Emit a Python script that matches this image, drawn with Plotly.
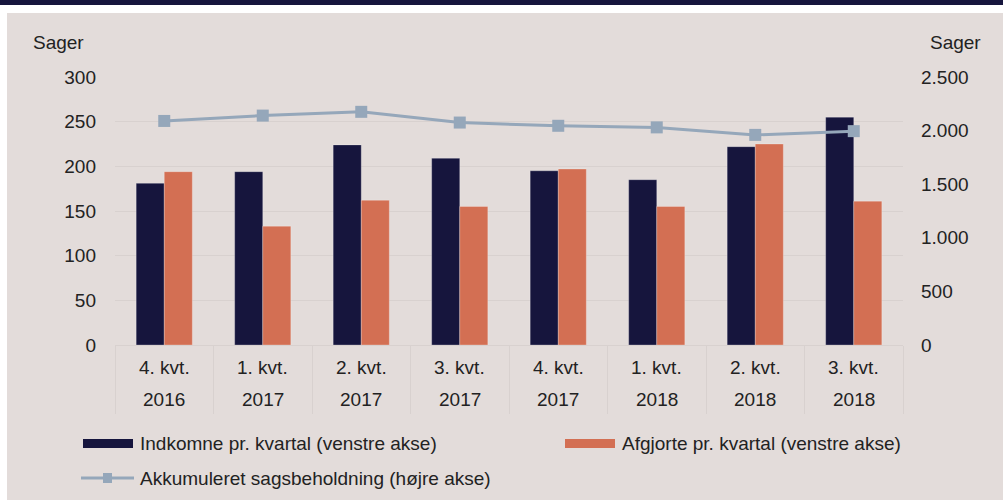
import plotly.graph_objects as go

quarters = ["4. kvt.", "1. kvt.", "2. kvt.", "3. kvt.", "4. kvt.", "1. kvt.", "2. kvt.", "3. kvt."]
years = ["2016", "2017", "2017", "2017", "2017", "2018", "2018", "2018"]
categories = [f"{q} {y}" for q, y in zip(quarters, years)]

indkomne = [181, 194, 224, 209, 195, 185, 222, 255]
afgjorte = [194, 133, 162, 155, 197, 155, 225, 161]
beholdning = [2090, 2140, 2175, 2075, 2045, 2030, 1960, 1995]

name_ind = "Indkomne pr. kvartal (venstre akse)"
name_afg = "Afgjorte pr. kvartal (venstre akse)"
name_akk = "Akkumuleret sagsbeholdning (højre akse)"

NAVY = "#16153D"
ORANGE = "#D36F53"
LINE = "#95A7BA"
BG = "#E3DCDA"
GRID = "#D8D1CF"
TXT = "#222222"
FONT = "Liberation Sans, Arial, sans-serif"
FS = 19

W, H = 1003, 500
L, R, T, B = 115, 100, 77, 155
PW, PH = W - L - R, H - T - B

def px(x):
    return (x - L) / PW

def py(y):
    return (T + PH - y) / PH

fig = go.Figure()
fig.add_trace(go.Bar(x=categories, y=indkomne, name=name_ind,
                     marker=dict(color=NAVY, line=dict(color="rgba(255,255,255,0.25)", width=1)), showlegend=False))
fig.add_trace(go.Bar(x=categories, y=afgjorte, name=name_afg,
                     marker=dict(color=ORANGE, line=dict(color="rgba(255,255,255,0.25)", width=1)), showlegend=False))
fig.add_trace(go.Scatter(x=categories, y=beholdning, name=name_akk, yaxis="y2", mode="lines+markers",
                         line=dict(color=LINE, width=3), marker=dict(symbol="square", size=12, color=LINE),
                         showlegend=False))

shapes = [
    dict(type="rect", xref="paper", yref="paper", x0=px(0), x1=px(W), y0=py(13), y1=py(0),
         fillcolor="white", line=dict(width=0), layer="below"),
    dict(type="rect", xref="paper", yref="paper", x0=px(0), x1=px(7), y0=py(H), y1=py(0),
         fillcolor="white", line=dict(width=0), layer="below"),
    dict(type="rect", xref="paper", yref="paper", x0=px(0), x1=px(W), y0=py(5), y1=py(0),
         fillcolor=NAVY, line=dict(width=0), layer="below"),
    # legend symbols
    dict(type="rect", xref="paper", yref="paper", x0=px(83), x1=px(133), y0=py(448), y1=py(439),
         fillcolor=NAVY, line=dict(width=0)),
    dict(type="rect", xref="paper", yref="paper", x0=px(565), x1=px(615), y0=py(448), y1=py(439),
         fillcolor=ORANGE, line=dict(width=0)),
    dict(type="line", xref="paper", yref="paper", x0=px(81), x1=px(134), y0=py(478), y1=py(478),
         line=dict(color=LINE, width=3)),
    dict(type="rect", xref="paper", yref="paper", x0=px(103), x1=px(112), y0=py(483), y1=py(473),
         fillcolor=LINE, line=dict(width=0)),
]

def ann(x, y, text, xref="paper", xanchor="center"):
    return dict(x=x, xref=xref, y=y, yref="paper", text=text, showarrow=False, xanchor=xanchor,
                yanchor="middle", font=dict(size=FS, color=TXT, family=FONT))

annotations = []
for c, q, y in zip(categories, quarters, years):
    annotations.append(ann(c, py(367), q, xref="x"))
    annotations.append(ann(c, py(399), y, xref="x"))
annotations += [
    ann(px(58), py(43), "Sager"),
    ann(px(956), py(43), "Sager"),
    ann(px(138), py(443), name_ind, xanchor="left"),
    ann(px(620), py(443), name_afg, xanchor="left"),
    ann(px(138), py(478), name_akk, xanchor="left"),
]

fig.update_layout(
    width=W, height=H, autosize=False,
    margin=dict(l=L, r=R, t=T, b=B, pad=0),
    paper_bgcolor=BG, plot_bgcolor=BG,
    separators=",.",
    barmode="group", bargap=0.43, bargroupgap=0,
    font=dict(family=FONT, size=FS, color=TXT),
    shapes=shapes, annotations=annotations,
    xaxis=dict(type="category", showticklabels=False, showgrid=False, showline=True, linecolor=GRID, linewidth=1,
               ticks="outside", tickson="boundaries", ticklen=68, tickcolor=GRID, tickwidth=1,
               range=[-0.5, 7.5]),
    yaxis=dict(range=[0, 300], dtick=50, showgrid=True, gridcolor=GRID, gridwidth=1, zeroline=False,
               ticks="", ticklabelstandoff=18, tickfont=dict(size=FS, color=TXT), showline=False),
    yaxis2=dict(range=[0, 2500], dtick=500, overlaying="y", side="right", showgrid=False, zeroline=False,
                ticks="", ticklabelstandoff=17, tickformat=",d", tickfont=dict(size=FS, color=TXT),
                showline=False),
)

fig.write_html("out.html", config={"displayModeBar": False},
               post_script="document.body.style.margin='0';")
